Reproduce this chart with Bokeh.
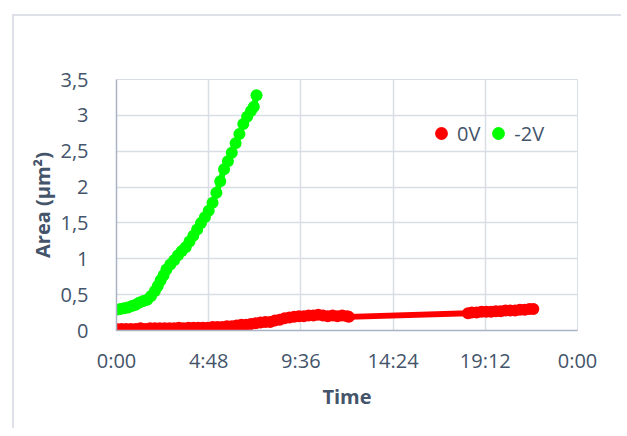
from bokeh.plotting import figure
from bokeh.models import Range1d, FixedTicker, Legend, LegendItem, ColumnDataSource
from bokeh.embed import file_html
from bokeh.resources import INLINE

# ---- data (time in hours, area in µm²) ----
t_0v = [0.0, 0.25, 0.5, 0.75, 1.0, 1.25, 1.5, 1.75, 2.0, 2.25, 2.5, 2.75, 3.0, 3.25,
        3.5, 3.75, 4.0, 4.25, 4.5, 4.75, 5.0, 5.25, 5.5, 5.75, 6.0, 6.25, 6.5, 6.75,
        7.0, 7.25, 7.5, 7.75, 8.0, 8.25, 8.5, 8.75, 9.0, 9.25, 9.5, 9.75, 10.0, 10.25,
        10.5, 10.75, 11.0, 11.25, 11.5, 11.75, 12.0, 12.1,
        18.3, 18.5, 18.75, 19.0, 19.25, 19.5, 19.75, 20.0, 20.25, 20.5, 20.75, 21.0,
        21.25, 21.5, 21.7]
a_0v = [0.02, 0.02, 0.02, 0.02, 0.02, 0.03, 0.02, 0.03, 0.03, 0.03, 0.03, 0.03, 0.03, 0.04,
        0.03, 0.04, 0.04, 0.04, 0.04, 0.04, 0.05, 0.05, 0.05, 0.06, 0.06, 0.07, 0.08, 0.08,
        0.09, 0.10, 0.11, 0.12, 0.12, 0.14, 0.15, 0.17, 0.18, 0.19, 0.20, 0.20, 0.21, 0.21,
        0.22, 0.21, 0.20, 0.21, 0.20, 0.21, 0.20, 0.19,
        0.24, 0.25, 0.25, 0.26, 0.26, 0.26, 0.27, 0.27, 0.28, 0.28, 0.28, 0.29,
        0.29, 0.30, 0.30]

t_2v = [0.0, 0.2, 0.4, 0.6, 0.8, 1.0, 1.2, 1.4, 1.6, 1.8, 2.0, 2.15, 2.3, 2.45, 2.6, 2.8,
        3.0, 3.2, 3.4, 3.6, 3.8, 4.0, 4.2, 4.4, 4.6, 4.8, 5.0, 5.2, 5.4, 5.6, 5.8, 6.0,
        6.2, 6.4, 6.6, 6.8, 7.0, 7.15, 7.29]
a_2v = [0.29, 0.30, 0.31, 0.32, 0.34, 0.36, 0.39, 0.41, 0.43, 0.48, 0.55, 0.62, 0.70, 0.77,
        0.85, 0.92, 0.98, 1.05, 1.11, 1.16, 1.24, 1.32, 1.41, 1.50, 1.58, 1.67, 1.78, 1.92,
        2.08, 2.25, 2.36, 2.48, 2.61, 2.74, 2.88, 2.98, 3.06, 3.12, 3.28]

x_ticks = [0, 4.8, 9.6, 14.4, 19.2, 24]
x_labels = ["0:00", "4:48", "9:36", "14:24", "19:12", "0:00"]
y_ticks = [0, 0.5, 1, 1.5, 2, 2.5, 3, 3.5]
y_labels = ["0", "0,5", "1", "1,5", "2", "2,5", "3", "3,5"]

FONT = "Open Sans"
TXT = "#44546A"
GRID = "#D9DEE6"
AXIS = "#A9B3C2"

p = figure(width=607, height=412, output_backend="svg", toolbar_location=None,
           x_range=Range1d(0, 24), y_range=Range1d(0, 3.5),
           min_border_left=102, min_border_top=63, min_border_right=44, min_border_bottom=98,
           frame_width=461, frame_height=251,
           margin=(14, 0, 0, 12),
           styles={"border-left": "2px solid #DEE2E8", "border-top": "2px solid #DEE2E8"})
p.background_fill_color = "white"
p.border_fill_color = "white"
p.outline_line_color = GRID
p.outline_line_width = 1

for ax, ticks, labels in ((p.xaxis[0], x_ticks, x_labels), (p.yaxis[0], y_ticks, y_labels)):
    ax.ticker = FixedTicker(ticks=ticks)
    ax.major_label_overrides = {t: l for t, l in zip(ticks, labels)}
    ax.major_tick_line_color = None
    ax.minor_tick_line_color = None
    ax.axis_line_color = AXIS
    ax.axis_line_width = 1.5
    ax.major_label_text_font = FONT
    ax.major_label_text_font_size = "20px"
    ax.major_label_text_color = TXT
    ax.axis_label_text_font = FONT
    ax.axis_label_text_font_size = "20px"
    ax.axis_label_text_font_style = "bold"
    ax.axis_label_text_color = TXT

p.xaxis.axis_label = "Time"
p.yaxis.axis_label = "Area (µm²)"
p.xaxis.major_label_standoff = 10
p.yaxis.major_label_standoff = 22
p.xaxis.axis_label_standoff = 6
p.yaxis.axis_label_standoff = 1

p.xgrid.ticker = FixedTicker(ticks=x_ticks)
p.ygrid.ticker = FixedTicker(ticks=y_ticks)
p.grid.grid_line_color = GRID
p.grid.grid_line_width = 1.5

src0 = ColumnDataSource(dict(t=t_0v, a=a_0v))
src2 = ColumnDataSource(dict(t=t_2v, a=a_2v))

p.line("t", "a", source=src0, line_color="#FF0000", line_width=6)
r0 = p.scatter("t", "a", source=src0, size=12, fill_color="#FF0000", line_color=None)
p.line("t", "a", source=src2, line_color="#00FF00", line_width=6)
r2 = p.scatter("t", "a", source=src2, size=12, fill_color="#00FF00", line_color=None)

legend = Legend(items=[LegendItem(label="0V", renderers=[r0]),
                       LegendItem(label="-2V", renderers=[r2])],
                orientation="horizontal", location=(309, 181),
                glyph_width=32, glyph_height=32, label_standoff=-7, spacing=2,
                padding=0, margin=0, border_line_color=None, background_fill_alpha=0,
                label_text_font=FONT, label_text_font_size="20px", label_text_color=TXT)
p.add_layout(legend, "center")

open("out.html", "w").write(file_html(p, INLINE))
